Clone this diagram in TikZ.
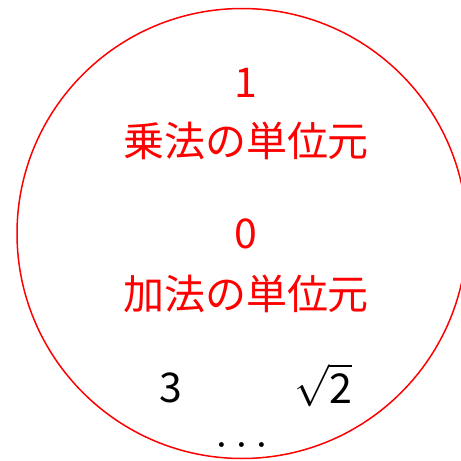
\documentclass[tikz,border=0pt]{standalone}
\usepackage{fontspec}
\usepackage{graphicx}
\newfontfamily\cjk{Noto Sans CJK JP}
\begin{document}
\begin{tikzpicture}[x=1pt,y=-1pt,
  redtxt/.style={text=red,font=\cjk\fontsize{41}{48}\selectfont,inner sep=0pt,anchor=base},
  blktxt/.style={text=black,font=\cjk\fontsize{41}{48}\selectfont,inner sep=0pt,anchor=base}]
\useasboundingbox (0,0) rectangle (461,461);
\node[draw=red,line width=1.5pt,circle,minimum size=450pt,inner sep=0pt] (set) at (242,233.5) {};
\node[redtxt] (one) at (246,97) {1};
\node[redtxt] (mul) at (246,156) {乗法の単位元};
\node[redtxt] (zero) at (246,248) {0};
\node[redtxt] (add) at (246,309) {加法の単位元};
\node[blktxt] (three) at (171,402) {3};
\node[text=black,inner sep=0pt,anchor=base] (sqrt) at (323,403) {\scalebox{4.2}{$\sqrt{\mbox{\cjk\fontsize{9.8}{11}\selectfont 2}}$}};
\node[text=black,inner sep=0pt,anchor=base] (dots) at (242,456) {\scalebox{4.6}{$\cdots$}};
\end{tikzpicture}
\end{document}
